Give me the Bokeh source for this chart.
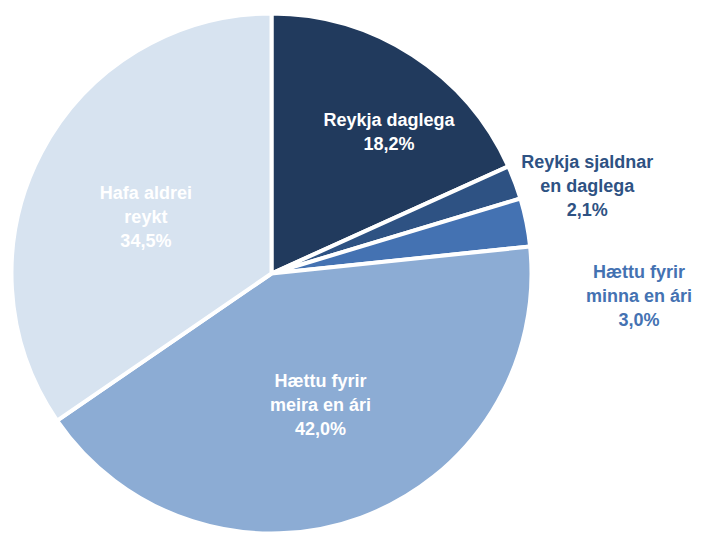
import math
from bokeh.plotting import figure
from bokeh.models import Range1d, ColumnDataSource
from bokeh.core.properties import value
from bokeh.embed import file_html
from bokeh.resources import INLINE

categories = ["Reykja daglega", "Reykja sjaldnar\nen daglega", "Hættu fyrir\nminna en ári",
              "Hættu fyrir\nmeira en ári", "Hafa aldrei\nreykt"]
values = [18.2, 2.1, 3.0, 42.0, 34.5]
value_labels = ["18,2%", "2,1%", "3,0%", "42,0%", "34,5%"]

colors = ["#213A5D", "#2E5283", "#4472B2", "#8CACD4", "#D7E3F0"]
text_colors = ["#FFFFFF", "#2E5283", "#4472B2", "#FFFFFF", "#FFFFFF"]
label_radius = [0.707, 1.26, 1.416, 0.54, 0.53]
label_shift = [6.9, 5.1, 14.8, -0.2, -3.5]  # degrees, clockwise adjustment

W, H = 699, 534
cx, cy, R = 271, -273, 260

p = figure(width=W, height=H, output_backend="svg", toolbar_location=None,
           x_range=Range1d(0, W), y_range=Range1d(-H, 0), min_border=0)
p.axis.visible = False
p.grid.visible = False
p.outline_line_color = None
p.background_fill_color = "white"

total = sum(values)
starts, ends, lx, ly, texts = [], [], [], [], []
cum = 0.0
for i, v in enumerate(values):
    a0 = math.pi / 2 - 2 * math.pi * cum / total
    cum += v
    a1 = math.pi / 2 - 2 * math.pi * cum / total
    starts.append(a0)
    ends.append(a1)
    mid = (a0 + a1) / 2 - math.radians(label_shift[i])
    lx.append(cx + R * label_radius[i] * math.cos(mid))
    ly.append(cy + R * label_radius[i] * math.sin(mid))
    texts.append(categories[i] + "\n" + value_labels[i])

src = ColumnDataSource(dict(start=starts, end=ends, color=colors))
p.wedge(x=cx, y=cy, radius=R, start_angle="start", end_angle="end", direction="clock",
        fill_color="color", line_color="white", line_width=4, source=src)

tsrc = ColumnDataSource(dict(x=lx, y=ly, text=texts, color=text_colors))
p.text(x="x", y="y", text="text", source=tsrc, text_color="color",
       text_font=value("Liberation Sans"), text_font_style="bold", text_font_size="18px",
       text_align="center", text_baseline="middle", text_line_height=1.2)

open("out.html", "w").write(file_html(p, INLINE))
